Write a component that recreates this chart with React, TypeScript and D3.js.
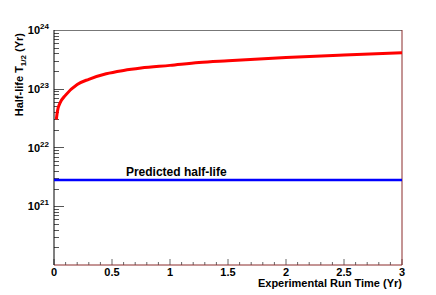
import { useEffect, useRef } from 'react'
import * as d3 from 'd3'

// sensitivity curve: run time (yr) -> half-life (yr)
const runTimes = [0.02, 0.03, 0.05, 0.1, 0.2, 0.3, 0.45, 0.6, 0.75, 1.0, 1.25, 1.5, 2.0, 2.5, 3.0]
const halfLives = [3.0e22, 4.2e22, 5.6e22, 7.8e22, 1.18e23, 1.45e23, 1.8e23, 2.05e23, 2.25e23, 2.5e23, 2.8e23, 3.0e23, 3.4e23, 3.75e23, 4.1e23]

const predictedHalfLife = 2.8e21
const predictedLabel = 'Predicted half-life'
const predictedLabelAt = 0.62

const xTicks = [0, 0.5, 1, 1.5, 2, 2.5, 3]
const yDecades = [21, 22, 23, 24]

const FONT = '"Liberation Sans", Arial, Helvetica, sans-serif'

export default function App() {
  const svgRef = useRef<SVGSVGElement>(null)

  useEffect(() => {
    const svg = d3.select(svgRef.current)
    svg.selectAll('*').remove()

    const W = 436
    const H = 295
    const margin = { top: 30, right: 34, bottom: 30, left: 54 }
    const innerW = W - margin.left - margin.right
    const innerH = H - margin.top - margin.bottom

    svg.attr('width', W).attr('height', H)

    const g = svg.append('g').attr('transform', `translate(${margin.left},${margin.top})`)

    const x = d3.scaleLinear().domain([0, 3]).range([0, innerW])
    const y = d3.scaleLog().domain([1e20, 1e24]).range([innerH, 0])

    // x ticks (inside, pointing up)
    const xMinor = d3.range(0, 31).map((i) => i / 10)
    g.selectAll('.xminor')
      .data(xMinor)
      .enter()
      .append('line')
      .attr('x1', (d) => x(d))
      .attr('x2', (d) => x(d))
      .attr('y1', innerH)
      .attr('y2', (d) => innerH - (xTicks.some((t) => Math.abs(t - d) < 1e-6) ? 6 : 3))
      .attr('stroke', '#666')
      .attr('stroke-width', 1)

    g.selectAll('.xlab')
      .data(xTicks)
      .enter()
      .append('text')
      .attr('x', (d) => x(d))
      .attr('y', innerH + 11)
      .attr('text-anchor', 'middle')
      .style('font-family', FONT)
      .style('font-weight', 'bold')
      .style('font-size', '11px')
      .text((d) => `${d}`)

    // y ticks (inside, pointing right)
    const yMinor: number[] = []
    for (let e = 20; e < 24; e++) {
      for (let m = 2; m <= 9; m++) yMinor.push(m * Math.pow(10, e))
    }
    g.selectAll('.yminor')
      .data(yMinor)
      .enter()
      .append('line')
      .attr('x1', 0)
      .attr('x2', 5)
      .attr('y1', (d) => Math.round(y(d)) + 0.5)
      .attr('y2', (d) => Math.round(y(d)) + 0.5)
      .attr('stroke', '#555')
    g.selectAll('.ymajor')
      .data(yDecades)
      .enter()
      .append('line')
      .attr('x1', 0)
      .attr('x2', 10)
      .attr('y1', (d) => Math.round(y(Math.pow(10, d))) + 0.5)
      .attr('y2', (d) => Math.round(y(Math.pow(10, d))) + 0.5)
      .attr('stroke', '#555')

    const ylab = g
      .selectAll('.ylab')
      .data(yDecades)
      .enter()
      .append('text')
      .attr('x', -5)
      .attr('y', (d) => y(Math.pow(10, d)) + 4)
      .attr('text-anchor', 'end')
      .style('font-family', FONT)
      .style('font-weight', 'bold')
      .style('font-size', '11px')
    ylab.append('tspan').text('10')
    ylab
      .append('tspan')
      .attr('dy', -5)
      .style('font-size', '8px')
      .text((d) => `${d}`)

    // frame
    g.append('line').attr('x1', 0).attr('x2', innerW).attr('y1', 0.5).attr('y2', 0.5).attr('stroke', '#777')
    g.append('line').attr('x1', innerW).attr('x2', innerW).attr('y1', 0).attr('y2', innerH).attr('stroke', '#8a2a2a')
    g.append('line').attr('x1', 0).attr('x2', innerW).attr('y1', innerH).attr('y2', innerH).attr('stroke', '#8a2a2a')
    g.append('line').attr('x1', 0).attr('x2', 0).attr('y1', 0).attr('y2', innerH).attr('stroke', '#000')

    // predicted line
    g.append('line')
      .attr('x1', x(0))
      .attr('x2', x(3))
      .attr('y1', y(predictedHalfLife))
      .attr('y2', y(predictedHalfLife))
      .attr('stroke', '#0000ff')
      .attr('stroke-width', 2.5)

    g.append('text')
      .attr('x', x(predictedLabelAt))
      .attr('y', y(predictedHalfLife) - 4)
      .style('font-family', FONT)
      .style('font-weight', 'bold')
      .style('font-size', '12px')
      .text(predictedLabel)

    // sensitivity curve
    const pts = runTimes.map((t, i) => [t, halfLives[i]] as [number, number])
    const line = d3
      .line<[number, number]>()
      .x((d) => x(d[0]))
      .y((d) => y(d[1]))
      .curve(d3.curveMonotoneX)
    g.append('path')
      .datum(pts)
      .attr('fill', 'none')
      .attr('stroke', '#ff0000')
      .attr('stroke-width', 3)
      .attr('d', line)

    // axis titles
    svg
      .append('text')
      .attr('x', margin.left + innerW)
      .attr('y', H - 8)
      .attr('text-anchor', 'end')
      .style('font-family', FONT)
      .style('font-weight', 'bold')
      .style('font-size', '11px')
      .text('Experimental Run Time (Yr)')

    const yt = svg
      .append('text')
      .attr('transform', `translate(23,33) rotate(-90)`)
      .attr('text-anchor', 'end')
      .style('font-family', FONT)
      .style('font-weight', 'bold')
      .style('font-size', '11px')
    yt.append('tspan').text('Half-life T')
    yt.append('tspan').attr('dy', 3).style('font-size', '8px').text('1/2')
    yt.append('tspan').attr('dy', -3).text(' (Yr)')
  }, [])

  return (
    <div style={{ position: 'absolute', left: 0, top: 0 }}>
      <svg ref={svgRef} style={{ display: 'block' }} />
    </div>
  )
}
